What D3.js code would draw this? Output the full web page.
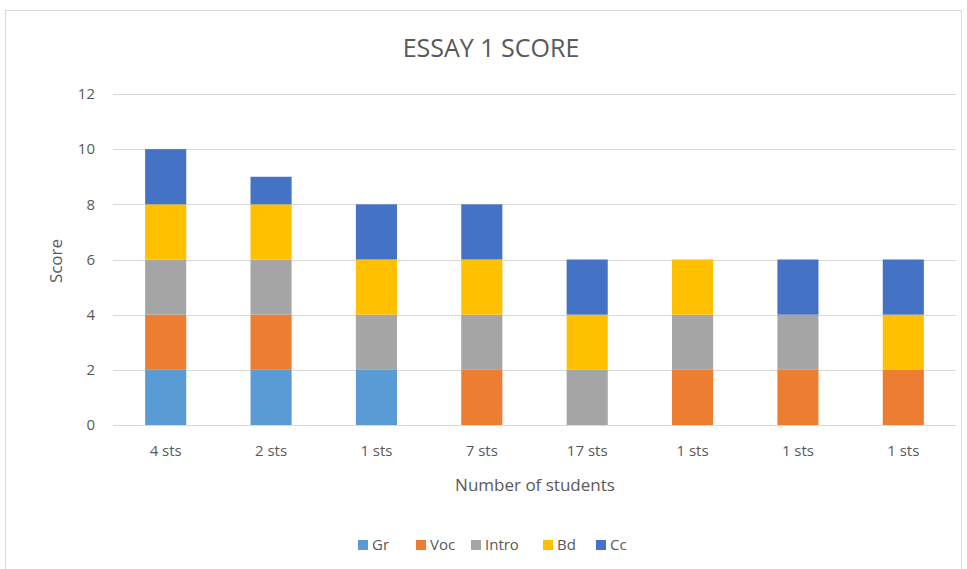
<!DOCTYPE html>
<html>
<head>
<meta charset="utf-8">
<script src="https://cdn.jsdelivr.net/npm/d3@7"></script>
<style>
  body { margin: 0; background: #fff; }
  text { font-family: "Liberation Sans Narrow", "Open Sans", sans-serif; fill: #595959; }
</style>
</head>
<body>
<div id="chart"></div>
<script>
// categories along x
const categories = ["4 sts", "2 sts", "1 sts", "7 sts", "17 sts", "1 sts", "1 sts", "1 sts"];
// series names, stacked bottom to top
const seriesNames = ["Gr", "Voc", "Intro", "Bd", "Cc"];
const seriesColors = ["#5B9BD5", "#ED7D31", "#A5A5A5", "#FFC000", "#4472C4"];
// values per series, one per category
const gr    = [2, 2, 2, 0, 0, 0, 0, 0];
const voc   = [2, 2, 0, 2, 0, 2, 2, 2];
const intro = [2, 2, 2, 2, 2, 2, 2, 0];
const bd    = [2, 2, 2, 2, 2, 2, 0, 2];
const cc    = [2, 1, 2, 2, 2, 0, 2, 2];
const yTicks = [0, 2, 4, 6, 8, 10, 12];

const width = 967, height = 569;
const margin = { top: 94, bottom: 144, left: 113, right: 11 };

// build table for d3.stack
const table = categories.map((c, i) => ({
  idx: i, Gr: gr[i], Voc: voc[i], Intro: intro[i], Bd: bd[i], Cc: cc[i]
}));

const svg = d3.select("#chart").append("svg")
  .attr("width", width)
  .attr("height", height);

// chart frame
svg.append("rect")
  .attr("x", 5.5).attr("y", 10.5)
  .attr("width", 956).attr("height", 600)
  .attr("fill", "#fff")
  .attr("stroke", "#d9d9d9");

const x = d3.scaleBand()
  .domain(d3.range(categories.length))
  .range([margin.left, width - margin.right])
  .paddingInner(0.61)
  .paddingOuter(0.305);

const y = d3.scaleLinear()
  .domain([0, 12])
  .range([height - margin.bottom, margin.top]);

const color = d3.scaleOrdinal().domain(seriesNames).range(seriesColors);

// gridlines
svg.append("g")
  .selectAll("line")
  .data(yTicks)
  .join("line")
    .attr("x1", margin.left)
    .attr("x2", width - margin.right)
    .attr("y1", d => Math.round(y(d)) + 0.5)
    .attr("y2", d => Math.round(y(d)) + 0.5)
    .attr("stroke", "#d9d9d9");

// stacked bars
const stacked = d3.stack().keys(seriesNames)(table);

svg.append("g")
  .selectAll("g")
  .data(stacked)
  .join("g")
    .attr("fill", d => color(d.key))
  .selectAll("rect")
  .data(d => d.filter(s => s[1] - s[0] > 0))
  .join("rect")
    .attr("x", d => x(d.data.idx))
    .attr("y", d => y(d[1]))
    .attr("height", d => y(d[0]) - y(d[1]))
    .attr("width", x.bandwidth());

// y axis labels
const yAxis = svg.append("g")
  .attr("transform", `translate(${margin.left - 18},0)`)
  .call(d3.axisLeft(y).tickValues(yTicks).tickSize(0).tickPadding(0));
yAxis.select(".domain").remove();
yAxis.selectAll("text").attr("font-size", "15px").style("font-family", "\"Liberation Sans Narrow\", \"Open Sans\", sans-serif").attr("fill", "#595959");

// x axis labels
const xAxis = svg.append("g")
  .attr("transform", `translate(0,${height - margin.bottom})`)
  .call(d3.axisBottom(x).tickFormat(i => categories[i]).tickSize(0).tickPadding(20));
xAxis.select(".domain").remove();
xAxis.selectAll("text").attr("font-size", "15px").style("font-family", "\"Liberation Sans Narrow\", \"Open Sans\", sans-serif").attr("fill", "#595959");

// title
svg.append("text")
  .attr("x", 491).attr("y", 57)
  .attr("text-anchor", "middle")
  .attr("font-size", "25px")
  .text("ESSAY 1 SCORE");

// axis titles
svg.append("text")
  .attr("x", 535).attr("y", 491)
  .attr("text-anchor", "middle")
  .attr("font-size", "17px")
  .text("Number  of students");

svg.append("text")
  .attr("transform", "translate(62,261) rotate(-90)")
  .attr("text-anchor", "middle")
  .attr("font-size", "17px")
  .text("Score");

// legend
const legendX = [358, 416, 471, 543, 596];
const legend = svg.append("g")
  .selectAll("g")
  .data(seriesNames)
  .join("g")
    .attr("transform", (d, i) => `translate(${legendX[i]},540)`);
legend.append("rect")
  .attr("width", 10).attr("height", 10)
  .attr("fill", d => color(d));
legend.append("text")
  .attr("x", 14).attr("y", 10)
  .attr("font-size", "15px")
  .text(d => d);
</script>
</body>
</html>
